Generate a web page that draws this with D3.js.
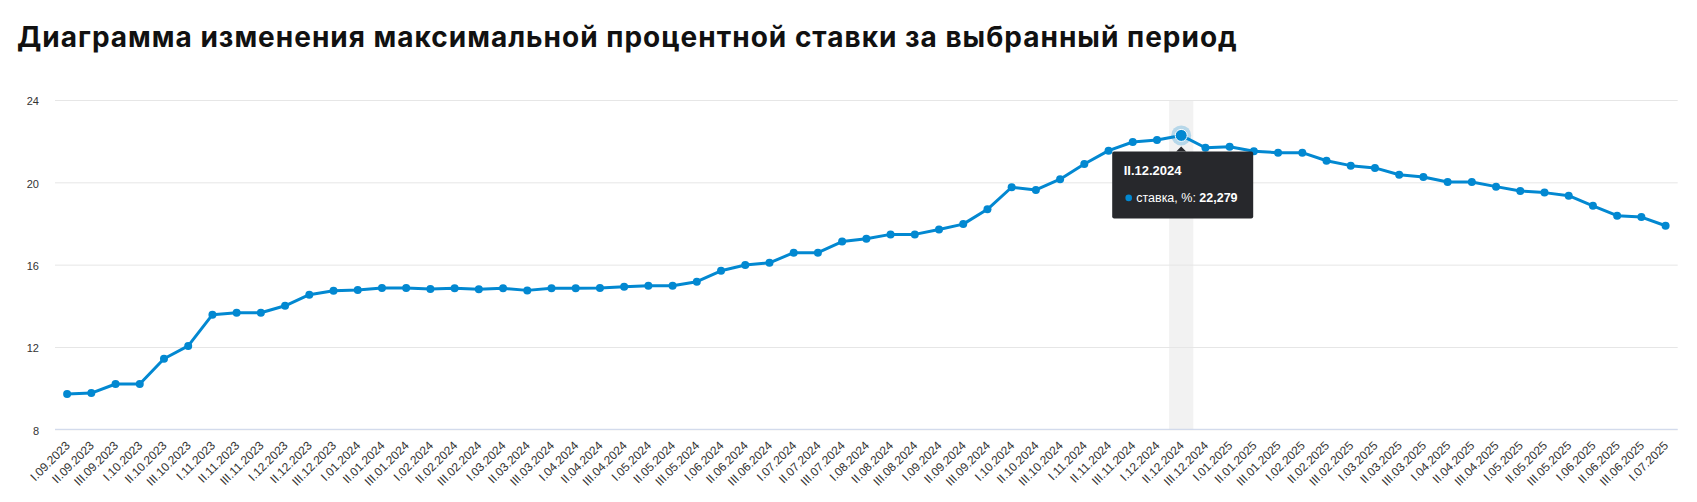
<!DOCTYPE html>
<html lang="ru">
<head>
    <meta charset="UTF-8">
    <title>Диаграмма</title>
<script src="https://d3js.org/d3.v7.min.js"></script>
<style>
    body { margin: 0; background: #fff; }
    svg text { font-family: "Liberation Sans", Arial, sans-serif; }
</style>
</head>
<body>
<div id="chart"></div>
<script>
    const title = "Диаграмма изменения максимальной процентной ставки за выбранный период"
    const seriesName = "ставка, %"

    const periods = [
        "I.09.2023","II.09.2023","III.09.2023","I.10.2023","II.10.2023","III.10.2023",
        "I.11.2023","II.11.2023","III.11.2023","I.12.2023","II.12.2023","III.12.2023",
        "I.01.2024","II.01.2024","III.01.2024","I.02.2024","II.02.2024","III.02.2024",
        "I.03.2024","II.03.2024","III.03.2024","I.04.2024","II.04.2024","III.04.2024",
        "I.05.2024","II.05.2024","III.05.2024","I.06.2024","II.06.2024","III.06.2024",
        "I.07.2024","II.07.2024","III.07.2024","I.08.2024","II.08.2024","III.08.2024",
        "I.09.2024","II.09.2024","III.09.2024","I.10.2024","II.10.2024","III.10.2024",
        "I.11.2024","II.11.2024","III.11.2024","I.12.2024","II.12.2024","III.12.2024",
        "I.01.2025","II.01.2025","III.01.2025","I.02.2025","II.02.2025","III.02.2025",
        "I.03.2025","II.03.2025","III.03.2025","I.04.2025","II.04.2025","III.04.2025",
        "I.05.2025","II.05.2025","III.05.2025","I.06.2025","II.06.2025","III.06.2025",
        "I.07.2025"
    ]

    const rates = [
        9.71, 9.76, 10.20, 10.20, 11.43, 12.05, 13.57, 13.66, 13.66, 14.0,
        14.54, 14.73, 14.77, 14.86, 14.86, 14.82, 14.85, 14.80, 14.85, 14.75,
        14.85, 14.85, 14.86, 14.93, 14.97, 14.97, 15.17, 15.70, 15.98, 16.09,
        16.58, 16.58, 17.12, 17.26, 17.47, 17.47, 17.71, 17.97, 18.69, 19.76,
        19.63, 20.15, 20.89, 21.54, 21.96, 22.06, 22.279, 21.68, 21.73, 21.51,
        21.44, 21.44, 21.05, 20.81, 20.70, 20.37, 20.26, 20.02, 20.02, 19.79,
        19.58, 19.50, 19.35, 18.86, 18.38, 18.31, 17.89
    ]

    const yTicks = [8, 12, 16, 20, 24]
    const hoverIndex = 46

    const width = 1697
    const height = 502
    const plotLeft = 55, plotRight = 1677.7, plotTop = 100, plotBottom = 429.3
    const blue = "#0288d1"

    const data = periods.map((p, i) => ({period: p, rate: rates[i]}))

    const xBand = d3.scaleBand().domain(periods).range([plotLeft, plotRight])
    const xScale = d3.scalePoint().domain(periods).range([plotLeft, plotRight]).padding(0.5)
    const yScale = d3.scaleLinear().domain([8, 24]).range([plotBottom, plotTop])

    const svg = d3.select("div#chart").append("svg")
        .attr("width", width)
        .attr("height", height)

    svg.append("text")
        .attr("x", 17)
        .attr("y", 46.5)
        .style("font-family", "Inter, 'Noto Sans', sans-serif")
        .style("font-weight", 700)
        .style("font-size", "28px")
        .style("letter-spacing", "1px")
        .style("fill", "#111")
        .text(title)

    // hover band
    svg.append("rect")
        .attr("x", xBand(periods[hoverIndex]))
        .attr("y", plotTop)
        .attr("width", xBand.bandwidth())
        .attr("height", plotBottom - plotTop)
        .attr("fill", "#f2f2f2")

    // grid
    const yAxis = d3.axisLeft(yScale).tickValues(yTicks).tickSize(-(plotRight - plotLeft)).tickPadding(16)
    svg.append("g")
        .attr("class", "yAxis")
        .attr("transform", "translate(" + plotLeft + ",0)")
        .call(yAxis)
        .call(g => g.select(".domain").remove())
        .call(g => g.selectAll(".tick line").attr("stroke", "#e6e6e6"))
        .call(g => g.selectAll(".tick text")
            .attr("dy", "0.45em")
            .style("font-size", "11px")
            .style("fill", "#333"))

    const xAxis = d3.axisBottom(xScale).tickSize(0).tickPadding(0)
    svg.append("g")
        .attr("class", "axis")
        .attr("transform", "translate(0," + plotBottom + ")")
        .call(xAxis)
        .call(g => g.select(".domain").attr("stroke", "#ccd6eb").attr("d", "M" + plotLeft + ",0H" + plotRight))
        .call(g => g.selectAll(".tick text")
            .attr("y", 0)
            .attr("dy", 0)
            .attr("transform", "translate(3,17) rotate(-45)")
            .style("text-anchor", "end")
            .style("font-size", "12px")
            .style("fill", "#333"))

    const line = d3.line()
        .x(d => xScale(d.period))
        .y(d => yScale(d.rate))

    svg.append("path")
        .datum(data)
        .attr("d", line)
        .attr("fill", "none")
        .attr("stroke", blue)
        .attr("stroke-width", 3)
        .attr("stroke-linejoin", "round")

    svg.selectAll("circle.pt")
        .data(data)
        .join("circle")
        .attr("class", "pt")
        .attr("cx", d => xScale(d.period))
        .attr("cy", d => yScale(d.rate))
        .attr("r", 4)
        .attr("fill", blue)

    // hovered point
    const hov = data[hoverIndex]
    const hx = xScale(hov.period), hy = yScale(hov.rate)
    svg.append("circle")
        .attr("cx", hx).attr("cy", hy).attr("r", 10)
        .attr("fill", blue).attr("opacity", 0.25)
    svg.append("circle")
        .attr("cx", hx).attr("cy", hy).attr("r", 6)
        .attr("fill", blue).attr("stroke", "#fff").attr("stroke-width", 1)

    // tooltip
    const tip = svg.append("g").attr("transform", "translate(" + (hx - 69) + "," + (hy + 16) + ")")
    tip.append("rect")
        .attr("x", 0).attr("y", 0)
        .attr("width", 141).attr("height", 67)
        .attr("rx", 2)
        .attr("fill", "#27282c")
    tip.append("path")
        .attr("d", "M64,0L69,-5L74,0Z")
        .attr("fill", "#27282c")
    tip.append("text")
        .attr("x", 11.5).attr("y", 24)
        .style("font-size", "13px").style("font-weight", 700)
        .style("fill", "#fff")
        .text(hov.period)
    tip.append("circle")
        .attr("cx", 16.5).attr("cy", 46.5).attr("r", 3.3)
        .attr("fill", blue)
    const row = tip.append("text")
        .attr("x", 24).attr("y", 50.7)
        .style("font-size", "12.5px")
        .style("fill", "#fff")
    row.append("tspan").text(seriesName + ": ")
    row.append("tspan").style("font-weight", 700).text(d3.format(".3f")(hov.rate).replace(".", ","))
</script>
</body>
</html>
